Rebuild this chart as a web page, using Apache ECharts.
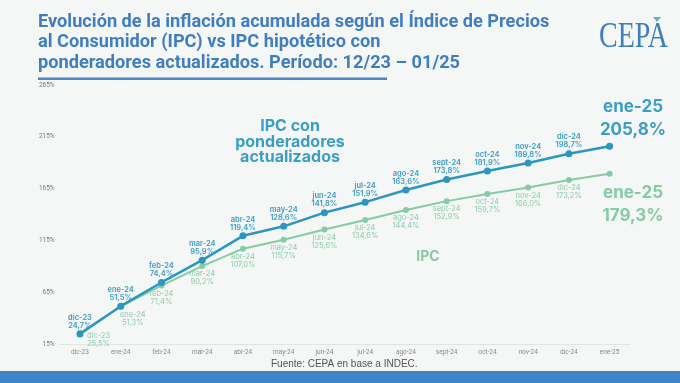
<!DOCTYPE html>
<html><head><meta charset="utf-8">
<script src="https://cdn.jsdelivr.net/npm/echarts@6/dist/echarts.min.js"></script>
<style>html,body{margin:0;padding:0;background:#f5f6f6}#c{width:680px;height:383px}</style>
</head><body><div id="c"></div>
<script>
const categories = ['dic-23','ene-24','feb-24','mar-24','abr-24','may-24','jun-24','jul-24','ago-24','sept-24','oct-24','nov-24','dic-24','ene-25'];
const ipcActualizado = [24.7, 51.5, 74.4, 95.9, 119.4, 128.6, 141.8, 151.9, 163.6, 173.8, 181.9, 189.8, 198.7, 205.8];
const ipc = [25.5, 51.3, 71.4, 90.2, 107.0, 115.7, 125.6, 134.6, 144.4, 152.9, 159.7, 166.0, 173.2, 179.3];
const yMin = 15, yMax = 265, yStep = 50;
const titleText = 'Evolución de la inflación acumulada según el Índice de Precios\nal Consumidor (IPC) vs IPC hipotético con\nponderadores actualizados. Período: 12/23 – 01/25';

const DARK = '#2b97c1', DARK_LBL = '#3b9dc9';
const GREEN = '#85cba4', GREEN_LBL = '#8ccfac';
const fmt = v => v.toFixed(1).replace('.', ',') + '%';
const last = categories.length - 1;

const darkData = ipcActualizado.map((v, i) => {
  const d = { value: v };
  if (i === last) d.label = { show: false };
  return d;
});
const greenData = ipc.map((v, i) => {
  const d = { value: v };
  if (i === last) d.label = { show: false };
  if (i === 0) d.label = { position: 'right', distance: 4, offset: [0, 7] };
  if (i === 1) d.label = { offset: [12, 0] };
  return d;
});

const chart = echarts.init(document.getElementById('c'));
chart.setOption({
  backgroundColor: '#f5f6f6',
  animation: false,
  grid: { left: 59.6, right: 50, top: 85, bottom: 39 },
  xAxis: {
    type: 'category', data: categories, boundaryGap: true,
    axisLine: { lineStyle: { color: '#e2e4e4', width: 1 } },
    axisTick: { show: false },
    axisLabel: { fontSize: 6.5, color: '#8a8a8a', margin: 5, fontFamily: 'Roboto' }
  },
  yAxis: {
    type: 'value', min: yMin, max: yMax, interval: yStep,
    axisLine: { show: false }, axisTick: { show: false },
    splitLine: { show: false },
    axisLabel: { fontSize: 6.5, color: '#7a7a7a', margin: 5, formatter: '{value}%', fontFamily: 'Roboto' }
  },
  series: [
    {
      name: 'IPC', type: 'line', data: greenData, z: 2,
      symbol: 'circle', symbolSize: 6,
      lineStyle: { color: GREEN, width: 2 },
      itemStyle: { color: GREEN },
      label: {
        show: true, position: 'bottom', distance: 1,
        fontSize: 7.5, lineHeight: 8, color: GREEN_LBL, fontFamily: 'Inter',
        formatter: p => categories[p.dataIndex] + '\n' + fmt(p.value)
      }
    },
    {
      name: 'IPC con ponderadores actualizados', type: 'line', data: darkData, z: 3,
      symbol: 'circle', symbolSize: 7,
      lineStyle: { color: DARK, width: 2.5 },
      itemStyle: { color: DARK },
      label: {
        show: true, position: 'top', distance: 1,
        fontSize: 7.5, lineHeight: 8, color: DARK_LBL, fontFamily: 'Inter', fontWeight: 600,
        formatter: p => categories[p.dataIndex] + '\n' + fmt(p.value)
      }
    }
  ],
  graphic: [
    { type: 'text', left: 38, top: 12, style: { text: titleText, font: 'bold 18.2px Roboto', fill: '#3f7fc1', lineHeight: 20.5 } },
    { type: 'rect', shape: { x: 38, y: 77.5, width: 349, height: 2.5 }, style: { fill: '#4a86c6' } },
    { type: 'text', x: 599, y: 20, scaleX: 0.8, style: { text: 'CEPA', font: '35px "Liberation Serif"', fill: '#3d80c0' } },
    { type: 'polygon', shape: { points: [[653, 17], [661, 17], [657, 22]] }, style: { fill: '#5fb7b0' } },
    { type: 'text', x: 633, y: 107, style: { text: 'ene-25', font: 'bold 17px Inter', fill: DARK_LBL, align: 'center', verticalAlign: 'middle' } },
    { type: 'text', x: 633, y: 130, style: { text: '205,8%', font: 'bold 17px Inter', fill: DARK_LBL, align: 'center', verticalAlign: 'middle' } },
    { type: 'text', x: 633, y: 193, style: { text: 'ene-25', font: 'bold 17px Inter', fill: GREEN, align: 'center', verticalAlign: 'middle' } },
    { type: 'text', x: 633, y: 216, style: { text: '179,3%', font: 'bold 17px Inter', fill: GREEN, align: 'center', verticalAlign: 'middle' } },
    { type: 'text', x: 290, y: 142, style: { text: 'IPC con\nponderadores\nactualizados', font: 'bold 16px Inter', lineHeight: 15.5, fill: '#3a9fc6', align: 'center', verticalAlign: 'middle' } },
    { type: 'text', x: 428, y: 257, style: { text: 'IPC', font: 'bold 14px Inter', fill: GREEN, align: 'center', verticalAlign: 'middle' } },
    { type: 'text', x: 271, y: 364, style: { text: 'Fuente: CEPA en base a INDEC.', font: '10px "Liberation Sans"', fill: '#555', verticalAlign: 'middle' } },
    { type: 'rect', shape: { x: 0, y: 371, width: 680, height: 12 }, style: { fill: '#3d85c6' } }
  ]
});
</script></body></html>
